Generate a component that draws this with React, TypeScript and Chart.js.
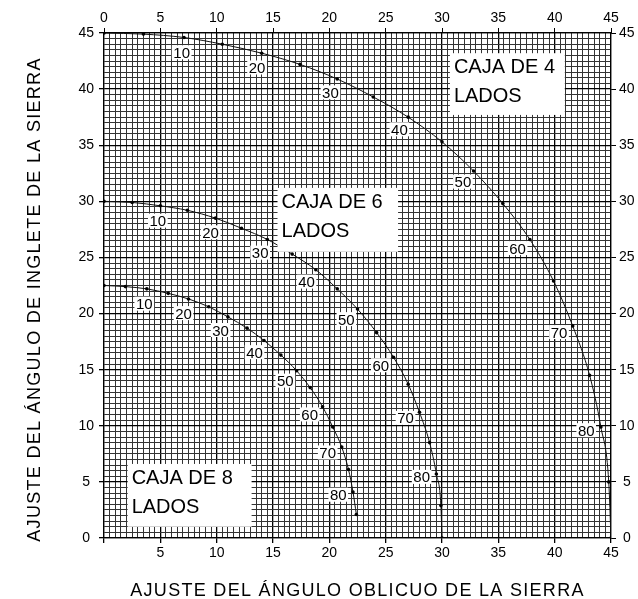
import React, { useEffect, useRef } from 'react';
import { Chart, registerables } from 'chart.js';

Chart.register(...registerables);

// Slope angle of the box sides (degrees), one point every 5°
const SLOPE = [0, 5, 10, 15, 20, 25, 30, 35, 40, 45, 50, 55, 60, 65, 70, 75, 80, 85, 90];
const LABELED_SLOPES = [10, 20, 30, 40, 50, 60, 70, 80];

// 4-sided box: bevel (x) and miter (y)
const BEVEL_4 = [0, 3.5, 7.1, 10.5, 14.0, 17.4, 20.7, 23.9, 27.0, 30.0, 32.8, 35.4, 37.8, 39.9, 41.6, 43.1, 44.1, 44.8, 45];
const MITER_4 = [45, 44.9, 44.6, 44.0, 43.2, 42.2, 40.9, 39.3, 37.5, 35.3, 32.7, 29.8, 26.6, 22.9, 18.9, 14.5, 9.9, 5.0, 0];
// 6-sided box
const BEVEL_6 = [0, 2.5, 5.0, 7.4, 9.9, 12.2, 14.5, 16.7, 18.8, 20.7, 22.5, 24.2, 25.7, 27.0, 28.0, 28.9, 29.5, 29.9, 30];
const MITER_6 = [30, 29.9, 29.6, 29.2, 28.5, 27.6, 26.6, 25.3, 23.9, 22.2, 20.4, 18.3, 16.1, 13.7, 11.2, 8.5, 5.7, 2.9, 0];
// 8-sided box (ends at 85°)
const BEVEL_8 = [0, 1.9, 3.8, 5.7, 7.5, 9.3, 11.0, 12.7, 14.2, 15.7, 17.1, 18.3, 19.4, 20.3, 21.1, 21.7, 22.1, 22.4];
const MITER_8 = [22.5, 22.4, 22.2, 21.8, 21.3, 20.6, 19.7, 18.7, 17.6, 16.3, 14.9, 13.4, 11.7, 9.9, 8.1, 6.1, 4.1, 2.1];

const AXIS_MIN = 0;
const AXIS_MAX = 45;
const MAJOR_STEP = 5;
const MINOR_STEP = 0.5;

const BOX_LINE1 = ['CAJA DE 4', 'CAJA DE 6', 'CAJA DE 8'];
const BOX_LINE2 = ['LADOS', 'LADOS', 'LADOS'];

const X_TITLE = 'AJUSTE DEL ÁNGULO OBLICUO DE LA SIERRA';
const Y_TITLE = 'AJUSTE DEL ÁNGULO DE INGLETE DE LA SIERRA';

const FONT = "'Liberation Sans', Arial, Helvetica, sans-serif";

// text box placement (data units) — layout, not data
const BOX_RECTS = [
  { x0: 30.7, x1: 40.9, y0: 37.7, y1: 43.2 },
  { x0: 15.4, x1: 26.1, y0: 25.5, y1: 31.2 },
  { x0: 2.1, x1: 13.1, y0: 1.0, y1: 6.6 },
];

const toPoints = (xs: number[], ys: number[]) => xs.map((x, i) => ({ x, y: ys[i] }));

const isMajor = (v: number) => Math.abs(v / MAJOR_STEP - Math.round(v / MAJOR_STEP)) < 1e-6;

const boxesPlugin = {
  id: 'boxes',
  afterDatasetsDraw(chart: any) {
    const { ctx, scales } = chart;
    const xs = scales.x;
    const ys = scales.y;
    ctx.save();
    BOX_RECTS.forEach((b, i) => {
      const left = xs.getPixelForValue(b.x0);
      const right = xs.getPixelForValue(b.x1);
      const top = ys.getPixelForValue(b.y1);
      const bottom = ys.getPixelForValue(b.y0);
      ctx.fillStyle = '#fff';
      ctx.fillRect(left, top, right - left, bottom - top);
      ctx.fillStyle = '#000';
      ctx.font = `20px ${FONT}`;
      ctx.textAlign = 'left';
      ctx.textBaseline = 'alphabetic';
      ctx.fillText(BOX_LINE1[i], left + 4, top + 20);
      ctx.fillText(BOX_LINE2[i], left + 4, top + 49);
    });

    // slope labels
    const ox = chart.chartArea.left;
    const oy = chart.chartArea.bottom;
    ctx.font = `15px ${FONT}`;
    chart.data.datasets.forEach((_ds: any, d: number) => {
      const meta = chart.getDatasetMeta(d);
      LABELED_SLOPES.forEach((s) => {
        const idx = SLOPE.indexOf(s);
        const el = meta.data[idx];
        if (!el) return;
        const dx = ox - el.x;
        const dy = oy - el.y;
        const len = Math.hypot(dx, dy);
        const cx = el.x + (dx / len) * 15;
        const cy = el.y + (dy / len) * 15;
        const text = String(s);
        const w = ctx.measureText(text).width;
        ctx.fillStyle = '#fff';
        ctx.fillRect(cx - w / 2 - 1.5, cy - 7, w + 3, 14);
        ctx.fillStyle = '#000';
        ctx.textAlign = 'center';
        ctx.textBaseline = 'alphabetic';
        ctx.fillText(text, cx, cy + 5.5);
      });
    });
    ctx.restore();
  },
  afterDraw(chart: any) {
    const { ctx, height, chartArea } = chart;
    ctx.save();
    ctx.fillStyle = '#000';
    ctx.font = `18px ${FONT}`;
    (ctx as any).letterSpacing = '1.3px';
    ctx.textAlign = 'center';
    ctx.textBaseline = 'alphabetic';
    ctx.fillText(X_TITLE, (chartArea.left + chartArea.right) / 2, height - 3);
    ctx.translate(40, height / 2);
    ctx.rotate(-Math.PI / 2);
    ctx.fillText(Y_TITLE, 0, 0);
    ctx.restore();
  },
};

export default function App() {
  const ref = useRef<HTMLCanvasElement | null>(null);

  useEffect(() => {
    if (!ref.current) return;
    const lineStyle = {
      showLine: true,
      borderColor: '#111',
      borderWidth: 1,
      pointRadius: 1.8,
      pointBackgroundColor: '#000',
      pointBorderWidth: 0,
      tension: 0,
      cubicInterpolationMode: 'monotone' as const,
    };
    const majorTickColor = (c: any) => (c.tick && isMajor(c.tick.value) ? '#000' : 'rgba(0,0,0,0)');
    const gridColor = (c: any) => (c.tick && isMajor(c.tick.value) ? '#000' : '#333');
    const gridWidth = (c: any) => (c.tick && isMajor(c.tick.value) ? 1.3 : 1);
    const tickFont = { family: FONT, size: 14 };

    const chart = new Chart(ref.current, {
      type: 'scatter',
      data: {
        datasets: [
          { label: '4', data: toPoints(BEVEL_4, MITER_4), ...lineStyle },
          { label: '6', data: toPoints(BEVEL_6, MITER_6), ...lineStyle },
          { label: '8', data: toPoints(BEVEL_8, MITER_8), ...lineStyle },
        ],
      },
      options: {
        animation: false,
        responsive: false,
        layout: { padding: 0 },
        plugins: { legend: { display: false }, tooltip: { enabled: false } },
        scales: {
          x: {
            type: 'linear',
            position: 'bottom',
            min: AXIS_MIN,
            max: AXIS_MAX,
            afterFit: (s: any) => { s.height = 61; },
            ticks: {
              stepSize: MINOR_STEP,
              autoSkip: false,
              maxRotation: 0,
              padding: 2,
              color: '#000',
              font: tickFont,
              callback: (v: any) => (isMajor(Number(v)) && Number(v) !== 0 ? String(v) : ''),
            },
            grid: { color: gridColor, lineWidth: gridWidth, tickColor: majorTickColor, tickLength: 5 },
            border: { display: true, color: '#000', width: 1.2 },
          },
          x2: {
            type: 'linear',
            position: 'top',
            min: AXIS_MIN,
            max: AXIS_MAX,
            afterFit: (s: any) => { s.height = 33; },
            ticks: { stepSize: MAJOR_STEP, maxRotation: 0, padding: 1, color: '#000', font: tickFont },
            grid: { drawOnChartArea: false, tickColor: '#000', tickLength: 5 },
            border: { display: true, color: '#000', width: 1.2 },
          },
          y: {
            type: 'linear',
            position: 'left',
            min: AXIS_MIN,
            max: AXIS_MAX,
            afterFit: (s: any) => { s.width = 104; },
            ticks: {
              stepSize: MINOR_STEP,
              autoSkip: false,
              crossAlign: 'center',
              padding: 5,
              color: '#000',
              font: tickFont,
              callback: (v: any) => (isMajor(Number(v)) ? String(v) : ''),
            },
            grid: { color: gridColor, lineWidth: gridWidth, tickColor: majorTickColor, tickLength: 5 },
            border: { display: true, color: '#000', width: 1.2 },
          },
          y2: {
            type: 'linear',
            position: 'right',
            min: AXIS_MIN,
            max: AXIS_MAX,
            afterFit: (s: any) => { s.width = 27; },
            ticks: { stepSize: MAJOR_STEP, crossAlign: 'center', padding: 3, color: '#000', font: tickFont },
            grid: { drawOnChartArea: false, tickColor: '#000', tickLength: 5 },
            border: { display: true, color: '#000', width: 1.2 },
          },
        },
      },
      plugins: [boxesPlugin],
    } as any);
    return () => chart.destroy();
  }, []);

  return (
    <div style={{ position: 'absolute', left: 0, top: 0, width: 638, height: 599, background: '#fff' }}>
      <canvas ref={ref} width={638} height={599} style={{ display: 'block' }} />
    </div>
  );
}
